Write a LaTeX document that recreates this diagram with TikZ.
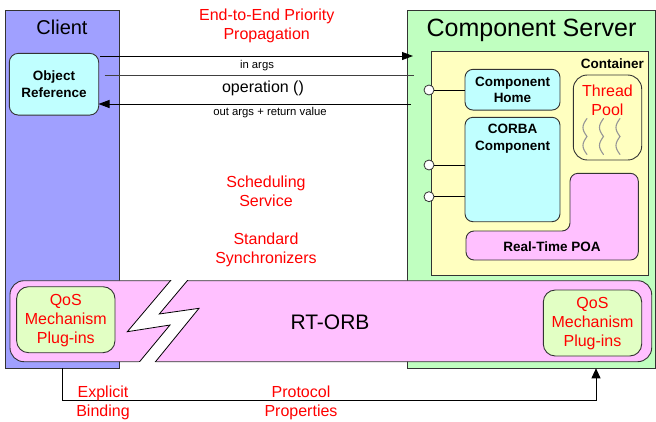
\documentclass[tikz,border=0pt]{standalone}
\usepackage{fontspec}
\setmainfont{Liberation Sans}
\usetikzlibrary{arrows.meta}
\definecolor{clientblue}{RGB}{160,160,255}
\definecolor{servergreen}{RGB}{192,255,192}
\definecolor{contyellow}{RGB}{255,255,192}
\definecolor{cyanfill}{RGB}{192,255,255}
\definecolor{orbpink}{RGB}{255,192,255}
\definecolor{qosfill}{RGB}{226,255,196}
\definecolor{squig}{RGB}{150,150,150}
\begin{document}
\begin{tikzpicture}[x=1pt,y=-1pt,
  frame/.style={draw=black!80, line width=0.9pt, inner sep=0pt, outer sep=0pt},
  part/.style={frame, fill=cyanfill, rounded corners=8pt},
  qos/.style={frame, fill=qosfill, rounded corners=12pt, minimum width=98.4pt, minimum height=66pt},
  boldlbl/.style={inner sep=0pt, align=center, font=\fontsize{13.5}{16.8}\selectfont\bfseries},
  redlbl/.style={inner sep=0pt, align=center, text=red, font=\fontsize{16}{18.8}\selectfont},
  smalllbl/.style={inner sep=0pt, font=\fontsize{11.3}{13}\selectfont},
  port/.style={circle, draw=black!80, fill=white, line width=0.8pt, minimum size=10pt, inner sep=0pt},
  msg/.style={draw=black, line width=0.9pt},
  tip/.style={-{Triangle[length=11pt,width=8pt]}}]
\useasboundingbox (0,0) rectangle (656,421);

% main containers
\node[frame, fill=clientblue, minimum width=113.6pt, minimum height=358pt, anchor=north west] (client) at (5.7,10) {};
\node[frame, fill=servergreen, minimum width=248.2pt, minimum height=357.3pt, anchor=north west] (server) at (407.3,10.7) {};
\node[frame, fill=contyellow, minimum width=216.6pt, minimum height=224pt, anchor=north west] (container) at (431.7,51.7) {};

\node[font=\fontsize{20}{24}\selectfont, inner sep=0pt] (clientlbl) at (62,27.5) {Client};
\node[font=\fontsize{25}{30}\selectfont, inner sep=0pt] (serverlbl) at (531.5,30) {Component Server};
\node[boldlbl, anchor=east] (contlbl) at (644,63.5) {Container};

% client side
\node[part, rounded corners=9pt, minimum width=89.4pt, minimum height=61.7pt] (objref) at (54,84.2) {};
\node[boldlbl] (objreflbl) at (54,84) {Object\\Reference};

% component parts
\node[part, minimum width=95pt, minimum height=40.7pt] (home) at (512.5,89.7) {};
\node[boldlbl] (homelbl) at (512.5,89.8) {Component\\Home};
\node[part, minimum width=95pt, minimum height=104.4pt] (corba) at (512.5,169.5) {};
\node[boldlbl] (corbalbl) at (512.5,139) {CORBA\\Component};

\node[frame, fill=contyellow, rounded corners=14pt, minimum width=68.4pt, minimum height=85pt] (pool) at (607.5,117.5) {};
\node[redlbl] (poollbl) at (607.5,100) {Thread\\Pool};
% idle threads
\foreach \c in {587,603.5,620}
  \draw[squig, line width=1.1pt, line cap=round] plot[smooth, domain=0:36, samples=37]
    ({\c-4*abs(sin(\x*180/18))}, {118.5+\x});

% real-time POA (L-shaped)
\draw[frame, fill=orbpink, rounded corners=8pt]
  (570,173.3) -- (638.3,173.3) -- (638.3,260) -- (466,260) -- (466,231) -- (570,231) -- cycle;
\node[boldlbl] (poalbl) at (552,246.5) {Real-Time POA};

% ports on the container wall
\node[port] (p1) at (429,90) {};
\node[port] (p2) at (429,165) {};
\node[port] (p3) at (429,196.7) {};
\draw[msg] (p1) -- (p1 -| home.west);
\draw[msg] (p2) -- (p2 -| corba.west);
\draw[msg] (p3) -- (p3 -| corba.west);

% invocation messages
\coordinate (a1s) at (100,56);
\coordinate (a1e) at (413,56);
\coordinate (a2s) at (104.5,75);
\coordinate (a2e) at (414,75);
\coordinate (a3s) at (411,104);
\coordinate (a3e) at (98.5,104);
\draw[msg, tip] (a1s) -- (a1e);
\draw[msg, draw=black!75] (a2s) -- (a2e);
\draw[msg, tip] (a3s) -- (a3e);
\node[smalllbl] (inargs) at (257,66) {in args};
\node[font=\fontsize{16}{18}\selectfont, inner sep=0pt] (oplbl) at (263,88.5) {operation ()};
\node[smalllbl] (outargs) at (270,113) {out args + return value};

% ORB
\node[frame, fill=orbpink, rounded corners=14pt, minimum width=641.7pt, minimum height=81pt, anchor=north west] (orb) at (10,280.7) {};
\node[font=\fontsize{21}{25}\selectfont, inner sep=0pt] (orblbl) at (330,322) {RT-ORB};

% network break
\fill[white] (176.7,273.3) -- (189.3,278.3) -- (159.3,314) -- (199,308.3) -- (149.3,369.3)
  -- (136,366) -- (170,325) -- (127.3,331.7) -- cycle;
\begin{scope}
  \clip (orb.north west) rectangle (orb.south east);
  \draw[black, line width=0.8pt] (176.7,273.3) -- (189.3,278.3) -- (159.3,314) -- (199,308.3) -- (149.3,369.3)
    -- (136,366) -- (170,325) -- (127.3,331.7) -- cycle;
\end{scope}

\node[qos] (qosl) at (65.8,319.7) {};
\node[redlbl] (qosllbl) at (65.8,320.5) {QoS\\Mechanism\\Plug-ins};
\node[qos] (qosr) at (592.5,323) {};
\node[redlbl] (qosrlbl) at (592.5,323.5) {QoS\\Mechanism\\Plug-ins};

% binding path
\coordinate (b1) at (62.7,368);
\coordinate (b2) at (596,368.3);
\draw[msg, -{Triangle[length=10pt,width=9pt]}] (b1) -- ++(0,32.7) -| (b2);

% red annotations
\node[redlbl] (prio) at (266.7,25.5) {End-to-End Priority\\Propagation};
\node[redlbl] (sched) at (266,191) {Scheduling\\Service};
\node[redlbl] (sync) at (266,250) {Standard\\Synchronizers};
\node[redlbl] (expl) at (103,402.5) {Explicit\\Binding};
\node[redlbl] (proto) at (301,402.5) {Protocol\\Properties};
\end{tikzpicture}
\end{document}
